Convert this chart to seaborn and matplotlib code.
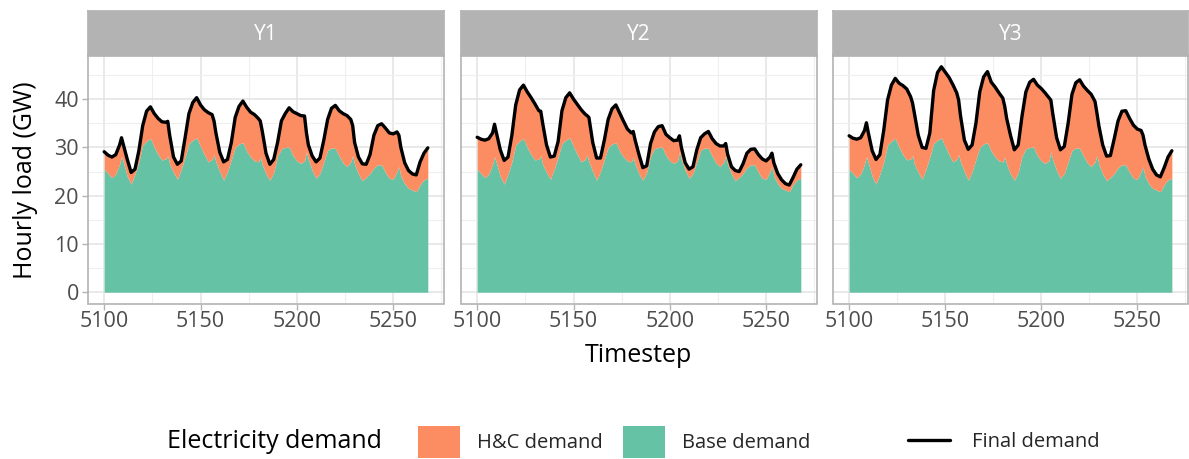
import matplotlib
matplotlib.use("Agg")
import numpy as np
import pandas as pd
import matplotlib.pyplot as plt
import seaborn as sns
from matplotlib.patches import Patch
from matplotlib.lines import Line2D

# ---------------- data ----------------
timestep = [
    5100, 5102, 5104, 5106, 5108, 5109, 5110, 5112, 5114, 5116, 5118, 5120, 5122,
    5124, 5126, 5128, 5130, 5132, 5133, 5134, 5136, 5138, 5140, 5142, 5144, 5146,
    5148, 5150, 5152, 5154, 5156, 5157, 5158, 5160, 5162, 5164, 5166, 5168, 5170,
    5172, 5174, 5176, 5178, 5180, 5181, 5182, 5184, 5186, 5188, 5190, 5192, 5194,
    5196, 5198, 5200, 5202, 5204, 5205, 5206, 5208, 5210, 5212, 5214, 5216, 5218,
    5220, 5222, 5224, 5226, 5228, 5229, 5230, 5232, 5234, 5236, 5238, 5240, 5242,
    5244, 5246, 5248, 5250, 5252, 5253, 5254, 5256, 5258, 5260, 5262, 5264, 5266,
    5268,
]

base_demand = [
    25.5, 24.6, 23.7, 24.5, 26.5, 28.1, 26.8, 24.0, 22.4, 24.5, 27.0, 30.5, 31.3,
    31.9, 30.0, 28.5, 27.4, 27.6, 28.3, 26.5, 24.8, 23.4, 25.5, 28.0, 30.8, 31.5,
    32.0, 30.2, 28.5, 27.0, 27.5, 28.5, 27.0, 25.0, 23.2, 25.0, 27.5, 30.0, 30.7,
    31.0, 29.2, 28.0, 27.2, 27.0, 28.0, 26.5, 24.5, 23.2, 24.8, 28.2, 29.7, 30.0,
    30.1, 28.3, 27.2, 26.7, 27.2, 29.1, 27.5, 25.2, 23.6, 24.6, 27.0, 29.4, 29.9,
    29.8, 28.2, 26.8, 26.0, 27.0, 28.3, 26.5, 24.5, 23.1, 23.8, 24.6, 25.8, 26.4,
    26.4, 24.8, 23.6, 23.4, 25.0, 26.0, 24.0, 22.5, 21.5, 21.2, 20.8, 22.3, 23.3,
    23.6,
]

final_y1 = [
    29.1, 28.4, 28.0, 28.5, 30.5, 32.0, 30.5, 27.5, 24.8, 25.5, 29.3, 34.5, 37.5,
    38.4, 37.0, 36.0, 35.3, 35.2, 35.4, 32.5, 28.0, 26.5, 27.2, 32.0, 37.0, 39.3,
    40.3, 38.8, 37.8, 37.2, 36.8, 35.5, 33.0, 29.0, 27.0, 27.5, 31.0, 36.2, 38.5,
    39.6, 38.3, 37.3, 36.8, 36.0, 35.5, 33.5, 28.8, 26.5, 27.5, 31.0, 35.5, 37.0,
    38.2, 37.4, 37.0, 36.6, 36.5, 33.0, 30.5, 28.2, 27.0, 27.8, 31.5, 35.8, 38.1,
    38.7, 37.6, 37.0, 36.6, 35.8, 34.5, 31.0, 28.0, 26.6, 26.5, 28.5, 32.5, 34.5,
    34.9, 34.0, 33.0, 32.8, 33.2, 32.5, 30.0, 26.8, 25.2, 24.5, 24.3, 27.0, 28.8,
    29.9,
]

final_y2 = [
    32.1, 31.7, 31.5, 31.8, 33.0, 34.8, 33.0, 29.5, 27.3, 28.0, 32.5, 38.8, 41.9,
    42.9, 41.5, 40.3, 39.0, 37.6, 37.5, 35.0, 30.5, 28.0, 28.2, 31.2, 37.6, 40.3,
    41.3, 40.0, 38.9, 37.8, 36.9, 36.6, 36.2, 31.0, 27.8, 27.8, 31.5, 35.8, 38.0,
    38.8, 37.1, 35.4, 33.8, 33.0, 33.3, 31.5, 28.5, 25.8, 26.2, 30.8, 33.2, 34.3,
    34.5, 32.7, 32.0, 31.4, 31.5, 32.4, 30.0, 26.8, 25.5, 26.0, 29.5, 32.0, 32.8,
    33.3, 31.8, 30.8, 30.3, 30.3, 30.8, 28.6, 26.0, 25.2, 25.0, 26.6, 28.8, 29.6,
    29.7, 28.5, 27.6, 27.2, 28.0, 28.8, 26.8, 24.6, 23.3, 22.5, 22.2, 23.8, 25.5,
    26.4,
]

final_y3 = [
    32.4, 31.9, 31.7, 32.0, 33.5, 35.1, 33.0, 29.3, 27.5, 28.5, 33.5, 39.8, 42.9,
    44.3, 43.3, 42.8, 42.1, 40.5, 39.2, 37.0, 32.5, 30.0, 29.8, 33.0, 41.8, 45.5,
    46.7, 45.6, 44.5, 43.0, 41.3, 39.8, 36.5, 31.5, 29.6, 30.5, 35.0, 41.5, 44.6,
    45.7, 43.5, 42.5, 41.3, 40.2, 38.5, 36.0, 32.5, 29.5, 30.5, 36.5, 41.5, 43.5,
    44.1, 42.9, 42.2, 41.3, 40.3, 39.8, 37.0, 32.0, 29.5, 30.2, 35.0, 41.0, 43.4,
    44.0, 42.7, 41.8, 41.0, 39.5, 37.1, 34.5, 30.5, 28.2, 28.3, 31.8, 35.5, 37.5,
    37.6, 36.0, 34.6, 33.8, 33.5, 32.5, 30.5, 27.6, 25.5, 24.3, 23.9, 25.8, 28.0,
    29.3,
]

years = ["Y1", "Y2", "Y3"]
finals = [final_y1, final_y2, final_y3]
x_ticks = [5100, 5150, 5200, 5250]
y_ticks = [0, 10, 20, 30, 40]
legend_title = "Electricity demand"
legend_labels = ["H&C demand", "Base demand", "Final demand"]

frames = []
for yr, fin in zip(years, finals):
    frames.append(pd.DataFrame({"year": yr, "timestep": timestep,
                                "base": base_demand, "final": fin}))
df = pd.concat(frames, ignore_index=True)

# ---------------- style ----------------
sns.set_theme(style="whitegrid")
plt.rcParams["font.family"] = ["Open Sans", "DejaVu Sans"]

C_BASE = "#66c2a5"
C_HC = "#fc8d62"
GRID = "#e3e3e3"
BORDER = "#b3b3b3"
TXT = "#4d4d4d"

W, H = 1189, 459
fig = plt.figure(figsize=(W / 100, H / 100), dpi=100)

def fx(px):
    return px / W

def fy(py):
    return 1 - py / H

panels_x = [(88, 444), (461, 817), (833, 1188)]
p_top, p_bot, s_top = 55.5, 303.5, 11

t_min, t_max = min(timestep), max(timestep)
tr = t_max - t_min
y_hi = max(max(f) for f in finals)
xlim = (t_min - 0.05 * tr, t_max + 0.05 * tr)
ylim = (-0.05 * y_hi, y_hi * 1.05)

for i, (yr, (l, r)) in enumerate(zip(years, panels_x)):
    sub = df[df["year"] == yr]
    ax = fig.add_axes([fx(l), fy(p_bot), fx(r - l), (p_bot - p_top) / H])
    ax.set_facecolor("white")
    ax.fill_between(sub["timestep"], 0, sub["base"], color=C_BASE, lw=0, zorder=2)
    ax.fill_between(sub["timestep"], sub["base"], sub["final"], color=C_HC, lw=0, zorder=2)
    sns.lineplot(data=sub, x="timestep", y="final", ax=ax, color="black",
                 linewidth=2.4, legend=False, zorder=3,
                 solid_joinstyle="round", solid_capstyle="round")
    ax.set_xlim(*xlim)
    ax.set_ylim(*ylim)
    ax.set_xticks(x_ticks)
    ax.set_xticks([5125, 5175, 5225, 5275], minor=True)
    ax.set_yticks(y_ticks)
    ax.set_yticks([5, 15, 25, 35, 45], minor=True)
    ax.grid(True, which="major", color=GRID, lw=1.1, zorder=0)
    ax.grid(True, which="minor", color="#efefef", lw=0.8, zorder=0)
    ax.set_axisbelow(True)
    for sp in ax.spines.values():
        sp.set_color(BORDER)
        sp.set_linewidth(1.2)
        sp.set_visible(True)
    ax.tick_params(axis="both", which="major", length=4, width=1, color=BORDER,
                   labelcolor=TXT, labelsize=15.5, pad=2.5)
    ax.tick_params(axis="both", which="minor", length=0)
    ax.tick_params(axis="x", bottom=True, pad=1.5)
    ax.tick_params(axis="y", left=True)
    ax.set_xlabel("")
    ax.set_ylabel("")
    if i > 0:
        ax.tick_params(axis="y", labelleft=False, left=False)

    sax = fig.add_axes([fx(l), fy(p_top), fx(r - l), (p_top - s_top) / H])
    sax.set_facecolor(BORDER)
    sax.set_xticks([])
    sax.set_yticks([])
    sax.grid(False)
    for sp in sax.spines.values():
        sp.set_color(BORDER)
    sax.text(0.5, 0.47, yr, ha="center", va="center", color="white",
             fontsize=15, transform=sax.transAxes)

fig.text(fx(26), fy(180), "Hourly load (GW)", rotation=90, ha="center", va="center",
         fontsize=18, color="black")
fig.text(fx(638), fy(356), "Timestep", ha="center", va="center", fontsize=18,
         color="black")

fig.text(fx(167), fy(442), legend_title, ha="left", va="center", fontsize=18,
         color="black")
fs = 14.5
fpx = fs * 100 / 72
h1 = [Patch(facecolor=C_HC, edgecolor="none"), Patch(facecolor=C_BASE, edgecolor="none")]
fig.legend(h1, legend_labels[:2], loc="center left", bbox_to_anchor=(fx(418), fy(442)),
           ncol=2, frameon=False, fontsize=fs, handlelength=42 / fpx,
           handleheight=42 / fpx, handletextpad=17 / fpx, columnspacing=20 / fpx,
           borderpad=0, borderaxespad=0)
h2 = [Line2D([0], [0], color="black", lw=2.4)]
fig.legend(h2, legend_labels[2:], loc="center left", bbox_to_anchor=(fx(908), fy(442)),
           ncol=1, frameon=False, fontsize=fs, handlelength=42 / fpx,
           handletextpad=22 / fpx, borderpad=0, borderaxespad=0)

fig.savefig("out.png", dpi=100)
